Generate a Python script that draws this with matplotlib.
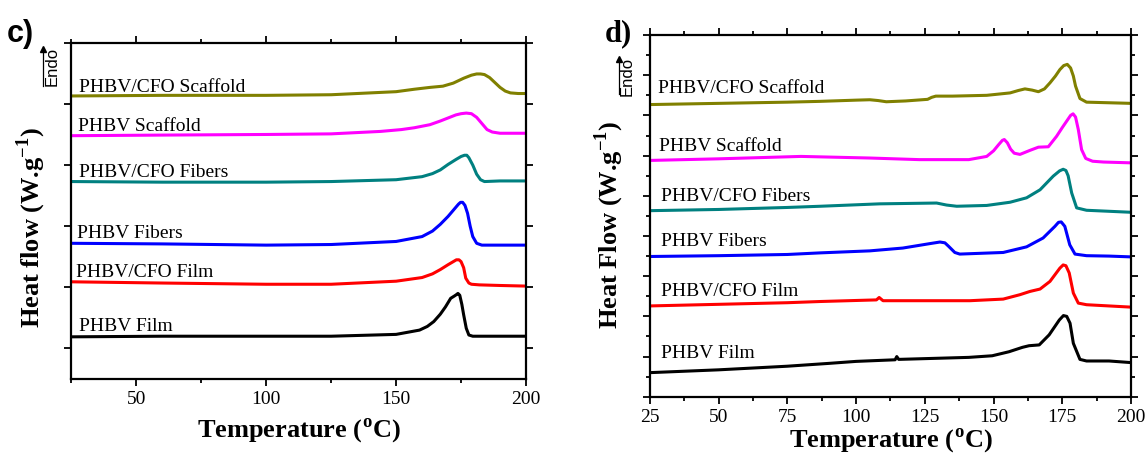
"""
DSC curves of PHBV and PHBV/CFO samples: panel c) and panel d).
"""

import matplotlib.pyplot as plt
from matplotlib.ticker import MultipleLocator, NullFormatter

plt.rcParams['font.family'] = ['Liberation Serif', 'DejaVu Serif']


# ---- Panel c data (offset heat flow, arbitrary units) ----

c_scaf_cfo_t = [25, 60, 100, 125, 140, 150, 157, 163, 168, 172, 176, 179, 181, 182.5, 184, 186, 188, 190, 192, 194, 197, 200]
c_scaf_cfo_h = [4.13, 4.14, 4.14, 4.15, 4.18, 4.20, 4.24, 4.27, 4.29, 4.34, 4.42, 4.47, 4.49, 4.49, 4.48, 4.43, 4.35, 4.27, 4.21, 4.18, 4.17, 4.17]

c_scaf_t = [25, 60, 100, 125, 144, 152, 157, 163, 167, 170, 173, 175, 177, 179, 181, 183, 185, 187, 190, 200]
c_scaf_h = [3.48, 3.49, 3.50, 3.51, 3.55, 3.58, 3.61, 3.66, 3.72, 3.77, 3.82, 3.84, 3.85, 3.84, 3.78, 3.68, 3.58, 3.54, 3.52, 3.52]

c_fib_cfo_t = [25, 60, 100, 125, 150, 160, 164, 167, 170, 173, 175, 176.3, 177.2, 178, 179.5, 181, 182.5, 184, 190, 200]
c_fib_cfo_h = [2.73, 2.72, 2.72, 2.73, 2.76, 2.81, 2.86, 2.92, 3.01, 3.09, 3.14, 3.16, 3.16, 3.12, 3.00, 2.85, 2.76, 2.73, 2.74, 2.74]

c_fib_t = [25, 60, 100, 125, 150, 160, 164, 167, 170, 172, 174, 174.8, 175.6, 176.5, 177.5, 178.5, 179.5, 181, 183, 190, 200]
c_fib_h = [1.72, 1.71, 1.69, 1.70, 1.75, 1.83, 1.92, 2.03, 2.16, 2.26, 2.36, 2.39, 2.39, 2.34, 2.21, 2.00, 1.83, 1.72, 1.69, 1.69, 1.69]

c_film_cfo_t = [25, 60, 100, 125, 150, 160, 164, 167, 170, 172, 173.2, 174.2, 175, 176, 176.8, 178, 179, 182, 190, 200]
c_film_cfo_h = [1.09, 1.07, 1.05, 1.05, 1.10, 1.16, 1.22, 1.29, 1.37, 1.42, 1.45, 1.45, 1.42, 1.32, 1.15, 1.07, 1.05, 1.04, 1.03, 1.02]

c_film_t = [25, 60, 100, 125, 150, 159, 162, 164.5, 167, 169, 171, 172.5, 173.2, 173.8, 174.5, 175.3, 176, 177, 178, 179.5, 185, 200]
c_film_h = [0.19, 0.20, 0.20, 0.20, 0.23, 0.30, 0.36, 0.44, 0.56, 0.68, 0.82, 0.86, 0.88, 0.90, 0.87, 0.72, 0.55, 0.33, 0.22, 0.20, 0.20, 0.20]


# ---- Panel d data ----

d_scaf_cfo_t = [25, 50, 75, 87, 100, 105, 108, 111, 118, 126, 127.5, 129, 135, 147.5, 156, 159, 161.4, 164, 166.3, 168.5, 170.5, 172.5, 174.1, 175.5, 176.8, 178, 179, 179.8, 181.4, 183.8, 200]
d_scaf_cfo_h = [6.27, 6.30, 6.33, 6.35, 6.38, 6.39, 6.37, 6.34, 6.36, 6.40, 6.45, 6.48, 6.48, 6.50, 6.56, 6.62, 6.66, 6.63, 6.59, 6.66, 6.81, 6.98, 7.14, 7.24, 7.27, 7.18, 6.98, 6.73, 6.42, 6.33, 6.30]

d_scaf_t = [25, 50, 80, 105, 123, 141, 147.5, 150, 151.8, 153.2, 153.9, 155, 156.2, 157.5, 159.6, 163.2, 166.3, 169.9, 172.9, 175, 176.6, 178, 178.9, 179.8, 180.8, 182, 183.5, 186, 190, 200]
d_scaf_h = [4.88, 4.92, 4.98, 4.94, 4.90, 4.90, 4.98, 5.12, 5.27, 5.38, 5.40, 5.32, 5.16, 5.06, 5.03, 5.13, 5.21, 5.22, 5.48, 5.70, 5.86, 6.00, 6.04, 5.96, 5.65, 5.15, 4.93, 4.86, 4.84, 4.82]

d_fib_cfo_t = [25, 50, 75, 87, 108.6, 129.3, 132.9, 136.6, 147.5, 156, 162, 166.9, 171.7, 174, 175.3, 176.3, 177.1, 178.4, 180.2, 183.8, 200]
d_fib_cfo_h = [3.63, 3.66, 3.71, 3.74, 3.80, 3.82, 3.77, 3.74, 3.76, 3.84, 3.95, 4.15, 4.49, 4.62, 4.66, 4.63, 4.50, 4.07, 3.70, 3.64, 3.59]

d_fib_t = [25, 50, 75, 87, 105, 117, 126.8, 130.5, 132.3, 133.7, 135.9, 137.7, 153.5, 162, 168, 172.3, 173.6, 174.6, 175.9, 177.7, 179.6, 183.8, 192, 200]
d_fib_h = [2.49, 2.51, 2.54, 2.58, 2.63, 2.70, 2.81, 2.85, 2.83, 2.74, 2.59, 2.55, 2.59, 2.73, 2.95, 3.24, 3.34, 3.35, 3.24, 2.78, 2.55, 2.51, 2.50, 2.48]

d_film_cfo_t = [25, 50, 75, 87, 107.4, 108.4, 109.8, 141.4, 153.5, 159.6, 163.2, 166.9, 170.5, 174.1, 175.3, 176.3, 177.5, 179, 180.8, 183.8, 200]
d_film_cfo_h = [1.26, 1.30, 1.34, 1.37, 1.41, 1.47, 1.39, 1.39, 1.43, 1.54, 1.62, 1.68, 1.87, 2.20, 2.28, 2.26, 2.08, 1.58, 1.33, 1.29, 1.23]

d_film_t = [25, 50, 75, 90, 100, 114.2, 114.8, 115.5, 141, 149.5, 155.6, 160.5, 162.9, 166.6, 170.2, 173.9, 175.4, 176.6, 177.8, 179, 181.4, 183.8, 192, 200]
d_film_h = [-0.40, -0.33, -0.24, -0.17, -0.12, -0.08, 0.00, -0.07, -0.02, 0.02, 0.12, 0.23, 0.27, 0.29, 0.54, 0.91, 1.02, 1.00, 0.83, 0.33, -0.07, -0.11, -0.11, -0.15]


# ---- Labels ----

names = ['PHBV/CFO Scaffold', 'PHBV Scaffold', 'PHBV/CFO Fibers', 'PHBV Fibers', 'PHBV/CFO Film', 'PHBV Film']
colors = ['#808000', '#ff00ff', '#008080', '#0000ff', '#ff0000', '#000000']

c_label_t = [28, 27.6, 28, 27.3, 26.9, 28]
c_label_h = [4.19, 3.56, 2.81, 1.80, 1.17, 0.29]
d_label_t = [27.9, 28.3, 29.2, 29.2, 28.9, 28.9]
d_label_h = [6.56, 5.11, 3.86, 2.74, 1.50, -0.04]

c_curves = [(c_scaf_cfo_t, c_scaf_cfo_h), (c_scaf_t, c_scaf_h), (c_fib_cfo_t, c_fib_cfo_h),
            (c_fib_t, c_fib_h), (c_film_cfo_t, c_film_cfo_h), (c_film_t, c_film_h)]
d_curves = [(d_scaf_cfo_t, d_scaf_cfo_h), (d_scaf_t, d_scaf_h), (d_fib_cfo_t, d_fib_cfo_h),
            (d_fib_t, d_fib_h), (d_film_cfo_t, d_film_cfo_h), (d_film_t, d_film_h)]


# ---- Figure ----

fig = plt.figure(figsize=(11.46, 4.55), dpi=100)
ax_c = fig.add_axes([0.0623, 0.167, 0.3967, 0.739])
ax_d = fig.add_axes([0.567, 0.128, 0.420, 0.795])


def style_axes(ax):
    for s in ax.spines.values():
        s.set_linewidth(1.6)
    ax.tick_params(which='both', direction='out', top=True, right=True, width=1.3, labelsize=14)
    ax.tick_params(which='major', length=5)
    ax.tick_params(which='minor', length=3)
    ax.yaxis.set_major_formatter(NullFormatter())
    ax.set_xlim(25, 200)


# panel c
for (t, h), col in zip(c_curves, colors):
    ax_c.plot(t, h, color=col, linewidth=2.2, solid_joinstyle='round')
for name, x, y in zip(names, c_label_t, c_label_h):
    ax_c.text(x, y, name, fontsize=14, va='baseline', ha='left')
style_axes(ax_c)
ax_c.set_ylim(-0.5, 5.0)
ax_c.xaxis.set_major_locator(MultipleLocator(50))
ax_c.xaxis.set_minor_locator(MultipleLocator(25))
ax_c.yaxis.set_major_locator(MultipleLocator(1))
ax_c.set_xlabel('Temperature ($^{\\mathregular{o}}$C)', fontsize=19, fontweight='bold', labelpad=6)
ax_c.set_ylabel('Heat flow (W.g$^{\\mathregular{-1}}$)', fontsize=19, fontweight='bold')
ax_c.yaxis.set_label_coords(-0.052, 0.45)

# panel d
for (t, h), col in zip(d_curves, colors):
    ax_d.plot(t, h, color=col, linewidth=2.2, solid_joinstyle='round')
for name, x, y in zip(names, d_label_t, d_label_h):
    ax_d.text(x, y, name, fontsize=14, va='baseline', ha='left')
style_axes(ax_d)
ax_d.set_ylim(-1.0, 8.0)
ax_d.xaxis.set_major_locator(MultipleLocator(25))
ax_d.xaxis.set_minor_locator(MultipleLocator(12.5))
ax_d.yaxis.set_major_locator(MultipleLocator(1))
ax_d.yaxis.set_minor_locator(MultipleLocator(0.5))
ax_d.set_xlabel('Temperature ($^{\\mathregular{o}}$C)', fontsize=19, fontweight='bold', labelpad=0)
ax_d.set_ylabel('Heat Flow (W.g$^{\\mathregular{-1}}$)', fontsize=19, fontweight='bold')
ax_d.yaxis.set_label_coords(-0.05, 0.475)

# panel letters and Endo arrows
fig.text(7 / 1146, 1 - 34 / 455, 'c)', fontsize=22, fontweight='bold', family='Liberation Sans', va='center')
fig.text(605 / 1146, 1 - 34 / 455, 'd)', fontsize=22, fontweight='bold', va='center')

for xa, y0, y1, xt, yt in [(43, 86, 47, 52, 66), (619, 94, 57, 627, 76)]:
    fig.add_artist(plt.Line2D([xa / 1146, xa / 1146], [1 - y0 / 455, 1 - (y1 + 4) / 455],
                              color='black', linewidth=0.9))
    fig.add_artist(plt.Line2D([xa / 1146], [1 - (y1 + 2) / 455], marker='^', markersize=4,
                              color='black', linestyle='none'))
    fig.text(xt / 1146, 1 - yt / 455, 'Endo', fontsize=12, rotation=90, family='Liberation Sans',
             ha='center', va='center')

plt.savefig('out.png', dpi=100)
